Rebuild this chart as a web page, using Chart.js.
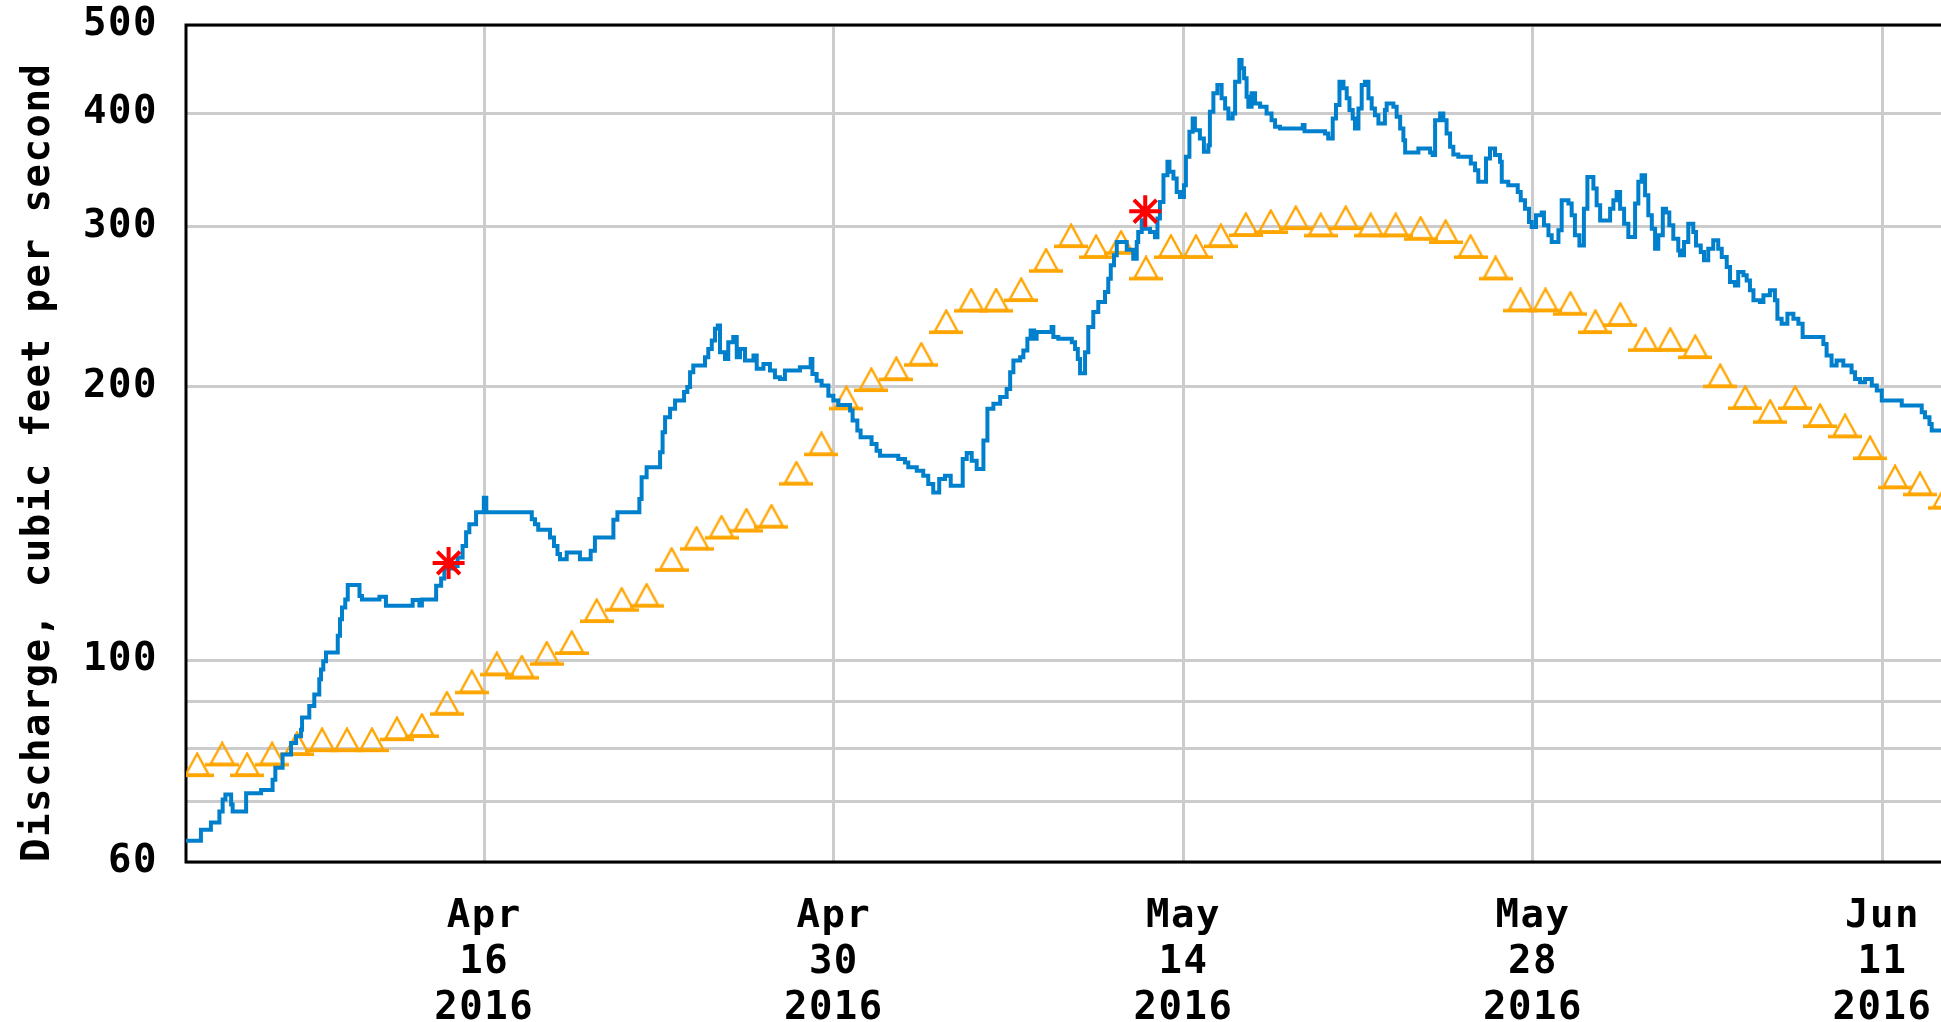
<!DOCTYPE html>
<html><head><meta charset="utf-8">
<script src="https://cdn.jsdelivr.net/npm/chart.js@4.4.0/dist/chart.umd.min.js"></script>
<style>html,body{margin:0;padding:0;background:#fff;overflow:hidden;} canvas{display:block;}</style>
</head><body>
<canvas id="c" width="1941" height="1022" style="width:1941px;height:1022px"></canvas>
<script>
// Time is given in days since 2016-04-01 00:00
const dischargeDay = [3.05,3.65,4.05,4.39,4.52,4.63,4.86,4.92,5.46,6.06,6.52,6.63,6.92,7.26,7.46,7.66,7.70,7.99,8.19,8.39,8.46,8.55,8.66,9.13,9.22,9.30,9.43,9.53,10.00,10.10,10.80,11.06,12.13,12.40,12.50,13.07,13.27,13.40,13.80,13.93,14.13,14.27,14.40,14.67,14.98,15.08,16.90,17.03,17.16,17.63,17.79,17.93,18.03,18.30,18.83,19.26,19.43,20.17,20.33,21.21,21.30,21.50,22.04,22.14,22.24,22.44,22.64,23.00,23.13,23.24,23.37,23.84,23.97,24.11,24.24,24.35,24.44,24.64,24.77,24.97,25.11,25.24,25.44,25.78,25.91,26.18,26.44,26.64,26.84,27.04,27.64,28.07,28.14,28.31,28.51,28.78,28.98,29.18,29.65,29.75,29.94,30.07,30.51,30.71,30.85,31.58,31.85,31.98,32.32,32.58,32.78,32.98,33.22,33.45,33.68,34.16,34.32,34.52,34.72,34.99,35.15,35.39,35.66,35.92,36.06,36.19,36.46,36.59,36.75,36.88,37.02,37.12,37.72,37.79,37.99,38.53,38.66,38.77,38.86,39.06,39.19,39.39,39.59,39.86,39.99,40.09,40.22,40.33,40.73,40.99,41.13,41.19,41.33,41.46,41.66,41.86,41.96,42.06,42.20,42.36,42.44,42.60,42.73,42.86,43.02,43.10,43.24,43.37,43.46,43.66,43.82,44.00,44.06,44.20,44.36,44.53,44.67,44.80,44.97,45.07,45.24,45.33,45.43,45.53,45.60,45.73,45.87,46.07,46.33,46.53,46.67,46.87,47.78,47.85,48.67,48.80,48.98,49.11,49.25,49.41,49.54,49.65,49.78,49.87,50.01,50.14,50.27,50.41,50.54,50.67,50.81,51.07,51.14,51.41,51.54,51.68,51.81,51.88,52.41,52.88,52.98,53.08,53.28,53.41,53.54,53.68,53.81,54.01,54.51,54.68,54.81,55.12,55.28,55.48,55.68,55.75,56.01,56.39,56.51,56.68,56.84,56.95,57.12,57.35,57.44,57.62,57.75,58.02,58.15,58.42,58.55,58.68,58.86,59.04,59.18,59.42,59.55,59.69,60.09,60.22,60.35,60.49,60.65,60.82,61.09,61.22,61.35,61.49,61.62,61.76,61.89,62.02,62.20,62.33,62.46,62.62,62.82,62.89,63.05,63.22,63.42,63.53,63.72,63.85,64.02,64.22,64.42,64.56,64.76,64.89,65.09,65.22,65.43,65.56,65.69,65.83,66.09,66.23,66.49,66.69,66.79,66.96,67.19,67.43,67.63,67.80,68.63,68.76,68.96,69.16,69.43,69.76,69.90,70.10,70.30,70.57,70.77,70.97,71.77,72.57,72.70,72.88,72.97,73.40];
const dischargeCfs = [63.3,65.1,66.3,68.2,70.3,71.2,69.4,68.2,71.4,72.0,73.9,76.2,78.8,81.1,82.5,83.9,86.5,89.1,91.7,95.3,97.7,99.8,102.0,106.4,111.0,114.3,116.7,121.0,117.7,116.7,117.5,114.8,116.5,114.9,116.7,120.8,123.0,126.2,127.0,129.8,133.6,138.3,141.2,145.5,151.0,145.5,143.0,141.2,139.2,136.5,133.6,130.9,129.2,131.4,129.2,132.0,136.5,142.8,145.5,150.5,159.0,163.1,169.4,178.2,185.1,189.1,193.1,197.3,199.8,207.5,211.0,215.5,220.1,224.8,231.6,233.6,218.3,214.6,223.9,226.8,215.5,220.1,213.7,216.5,209.3,211.9,208.4,204.9,204.0,208.4,210.1,214.6,206.6,203.1,200.6,195.5,193.1,191.0,188.3,183.6,179.0,176.0,173.0,170.1,167.9,166.5,165.1,163.1,161.7,159.6,156.3,153.0,158.3,159.6,155.6,166.5,169.1,165.8,162.4,174.5,189.1,191.5,194.8,198.9,207.5,213.7,215.5,219.2,225.8,230.6,225.8,229.7,232.6,226.8,225.8,223.9,220.1,214.6,207.0,218.3,232.6,241.6,247.8,254.2,262.9,272.0,279.0,288.6,283.0,276.6,288.6,296.0,304.9,298.5,296.0,292.0,306.2,319.4,341.8,353.6,344.7,338.9,327.6,323.5,333.2,358.1,381.5,394.6,383.1,375.1,362.6,368.8,401.4,420.5,429.5,415.2,404.8,394.6,399.6,433.1,457.6,448.0,436.8,416.9,406.5,420.5,409.9,406.5,399.6,392.9,386.3,384.7,388.0,382.0,379.9,375.1,394.6,408.2,433.1,425.9,415.2,403.1,394.6,384.7,404.8,429.5,433.1,415.2,404.8,397.9,389.6,403.1,409.9,406.5,396.3,384.7,373.5,362.0,365.7,362.0,359.6,392.9,399.6,392.9,379.9,367.3,360.2,358.1,352.0,346.1,336.1,356.5,365.7,359.6,353.5,336.1,333.2,327.6,320.7,314.0,303.6,299.8,308.8,311.0,301.0,293.5,288.6,297.2,320.7,318.1,308.8,293.5,286.1,314.0,340.3,330.4,316.7,304.8,314.0,320.7,327.6,314.0,302.3,292.3,318.1,336.1,341.8,324.8,308.8,298.5,283.7,293.5,314.0,311.0,301.0,291.0,282.5,279.0,288.6,302.3,296.0,286.1,281.3,275.5,283.7,289.8,283.7,277.8,270.9,260.8,258.5,267.4,265.2,261.8,255.3,248.9,247.8,252.1,255.3,248.9,237.6,234.6,240.6,237.6,234.6,226.8,222.9,216.5,211.0,213.7,211.0,207.5,204.0,202.3,204.0,200.6,198.1,193.1,190.7,187.5,185.1,182.0,179.0,179.0];

// Daily median statistic (noon of each day)
const medianDay = [3.5,4.5,5.5,6.5,7.5,8.5,9.5,10.5,11.5,12.5,13.5,14.5,15.5,16.5,17.5,18.5,19.5,20.5,21.5,22.5,23.5,24.5,25.5,26.5,27.5,28.5,29.5,30.5,31.5,32.5,33.5,34.5,35.5,36.5,37.5,38.5,39.5,40.5,41.5,42.5,43.5,44.5,45.5,46.5,47.5,48.5,49.5,50.5,51.5,52.5,53.5,54.5,55.5,56.5,57.5,58.5,59.5,60.5,61.5,62.5,63.5,64.5,65.5,66.5,67.5,68.5,69.5,70.5,71.5,72.5,73.5];
const medianCfs = [76.7,78.8,76.7,78.8,80.9,81.7,81.7,81.7,84.0,84.7,89.6,94.6,99.0,98.2,101.7,104.5,113.3,116.6,117.8,129.0,136.1,140.0,142.5,143.9,160.5,172.9,194.2,203.4,209.1,216.9,235.6,248.8,248.8,255.5,275.2,292.9,285.0,288.0,269.9,285.0,285.0,292.9,301.3,303.6,306.6,301.0,306.6,301.0,301.0,298.4,296.0,285.0,269.9,248.9,248.9,246.8,235.6,239.9,225.2,225.2,221.1,205.4,194.4,187.7,194.4,185.7,180.9,171.2,159.0,156.2,151.0];

// Field measurements
const measuredDay = [13.57, 41.47];
const measuredCfs = [128, 312];

const yTickValues = [60,70,80,90,100,200,300,400,500];
const yTickLabels = ['60','','','','100','200','300','400','500'];
const xTickDays = [15,29,43,57,71];
const xTickLabels = [['Apr','16','2016'],['Apr','30','2016'],['May','14','2016'],['May','28','2016'],['Jun','11','2016']];
const yAxisTitle = 'Discharge, cubic feet per second';
const xMin = 3.052, xMax = 73.342;

const FAMILY = "'DejaVu Sans Mono', monospace";
const BLUE = '#0080cc', ORANGE = '#ffa500', RED = '#ff0000';

function makeTriangle(){
  const c = document.createElement('canvas');
  c.width = 34; c.height = 26;
  const g = c.getContext('2d');
  g.strokeStyle = ORANGE; g.lineWidth = 2.4;
  g.beginPath(); g.moveTo(17, 1.5); g.lineTo(5.5, 22.5); g.lineTo(28.5, 22.5); g.closePath(); g.stroke();
  g.fillStyle = ORANGE; g.fillRect(0, 21.5, 34, 3.5);
  return c;
}
const triImg = makeTriangle();

const framePlugin = {
  id: 'frame',
  beforeUpdate(chart){ chart.ctx.letterSpacing = '1.5px'; },
  beforeDraw(chart){ chart.ctx.letterSpacing = '1.5px'; },
  beforeDatasetsDraw(chart){
    const {ctx, chartArea: a} = chart;
    ctx.save();
    ctx.strokeStyle = '#000'; ctx.lineWidth = 3; ctx.lineJoin = 'miter';
    ctx.beginPath();
    ctx.moveTo(chart.width + 2, a.top);
    ctx.lineTo(a.left, a.top);
    ctx.lineTo(a.left, a.bottom);
    ctx.lineTo(chart.width + 2, a.bottom);
    ctx.stroke();
    ctx.restore();
  }
};

const pts = (xs, ys) => xs.map((x, i) => ({x, y: ys[i]}));

new Chart(document.getElementById('c'), {
  type: 'line',
  data: {
    datasets: [
      { label: 'Measured discharge', data: pts(measuredDay, measuredCfs), showLine: false,
        pointStyle: 'star', pointRadius: 16, borderColor: RED, backgroundColor: RED, pointBorderWidth: 4 },
      { label: 'Discharge', data: pts(dischargeDay, dischargeCfs), borderColor: BLUE, borderWidth: 4,
        pointRadius: 0, stepped: true, tension: 0, borderJoinStyle: 'miter', fill: false },
      { label: 'Median daily statistic', data: pts(medianDay, medianCfs), showLine: false,
        pointStyle: triImg, pointRadius: 16, borderColor: ORANGE, backgroundColor: ORANGE }
    ]
  },
  options: {
    responsive: false, animation: false, events: [],
    layout: { autoPadding: false, padding: { top: 25, left: 0, right: 0, bottom: 0 } },
    plugins: { legend: { display: false }, tooltip: { enabled: false } },
    scales: {
      x: {
        type: 'linear', min: xMin, max: xMax,
        afterBuildTicks: s => { s.ticks = xTickDays.map(v => ({value: v})); },
        afterFit: s => { s.height = 160; s.paddingLeft = 0; s.paddingRight = 0; },
        ticks: { autoSkip: false, maxRotation: 0, minRotation: 0, padding: 32, color: '#000',
          font: { family: FAMILY, size: 39, weight: 'bold', lineHeight: 1.18 },
          callback: (v, i) => xTickLabels[i] },
        grid: { color: '#cccccc', lineWidth: 3, drawTicks: false },
        border: { display: false }
      },
      y: {
        type: 'logarithmic', min: 60, max: 500,
        afterBuildTicks: s => { s.ticks = yTickValues.map(v => ({value: v})); },
        afterFit: s => { s.width = 186; s.paddingTop = 0; s.paddingBottom = 0; },
        ticks: { autoSkip: false, padding: 28, color: '#000',
          font: { family: FAMILY, size: 39, weight: 'bold', lineHeight: 1 },
          callback: (v, i) => yTickLabels[i] },
        grid: { color: '#cccccc', lineWidth: 3, drawTicks: false },
        border: { display: false },
        title: { display: true, text: yAxisTitle, align: 'start', color: '#000',
          font: { family: FAMILY, size: 39, weight: 'bold', lineHeight: 1 },
          padding: { top: 19, bottom: 0 } }
      }
    }
  },
  plugins: [framePlugin]
});
</script>
</body></html>
